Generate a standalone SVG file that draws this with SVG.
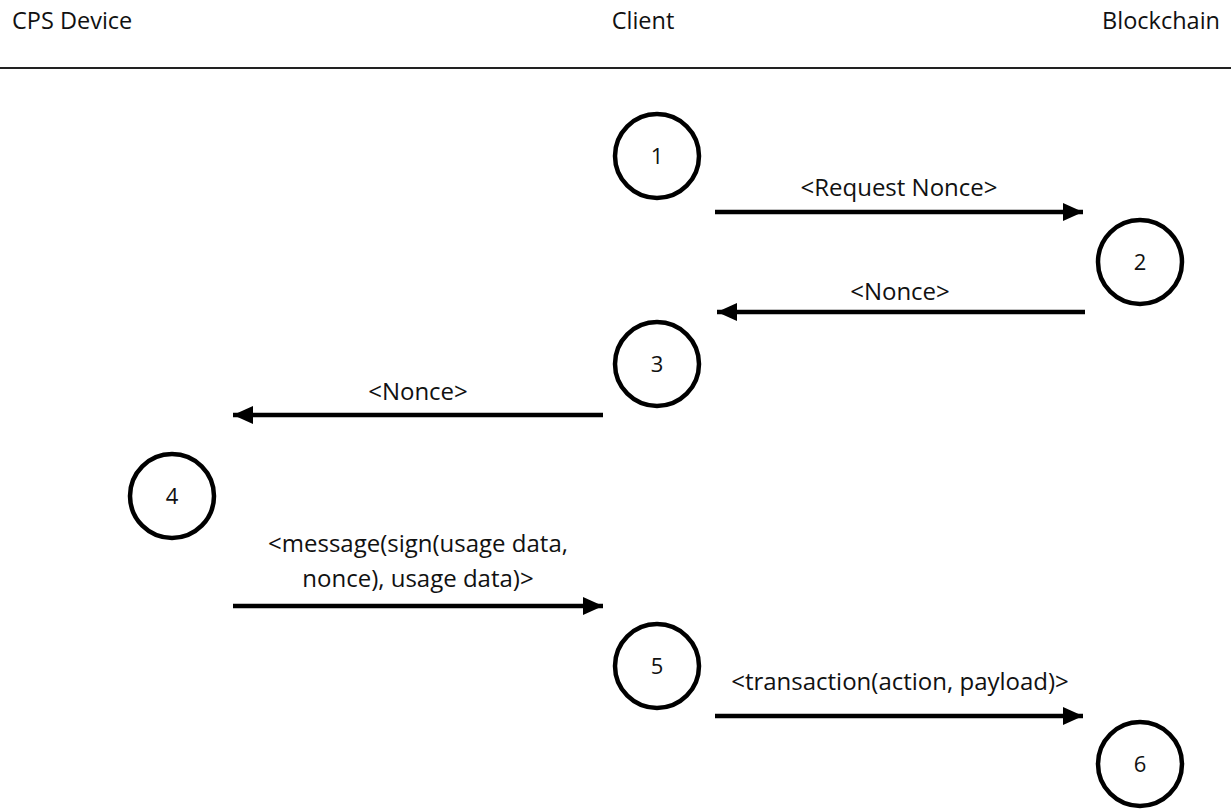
<svg xmlns="http://www.w3.org/2000/svg" width="1231" height="810" viewBox="0 0 1231 810">
<style>
text{font-family:"Open Sans","Noto Sans","DejaVu Sans",sans-serif;fill:#111}
.hd{font-size:23.5px}
.lb{font-size:24px;text-anchor:middle}
.num{font-size:22px;text-anchor:middle}
.node circle{fill:#fff;stroke:#000;stroke-width:4.5}
.conn line{stroke:#000;stroke-width:4.5}
</style>
<defs>
<marker id="ah" markerWidth="5" markerHeight="4" refX="4.5" refY="2" orient="auto" markerUnits="strokeWidth">
<path d="M0,0 L4.5,2 L0,4 Z" fill="#000"/>
</marker>
</defs>
<rect width="1231" height="810" fill="#fff"/>
<g id="header">
<text class="hd" x="12" y="29">CPS Device</text>
<text class="hd" x="643" y="29" text-anchor="middle">Client</text>
<text class="hd" x="1220" y="29" text-anchor="end">Blockchain</text>
<line x1="0" y1="68" x2="1231" y2="68" stroke="#222" stroke-width="2"/>
</g>
<g id="n1" class="node"><circle cx="657" cy="156" r="42"/><text class="num" x="657" y="164">1</text></g>
<g id="n2" class="node"><circle cx="1140" cy="262" r="42"/><text class="num" x="1140" y="270">2</text></g>
<g id="n3" class="node"><circle cx="657" cy="364" r="42"/><text class="num" x="657" y="372">3</text></g>
<g id="n4" class="node"><circle cx="172" cy="496" r="42"/><text class="num" x="172" y="504">4</text></g>
<g id="n5" class="node"><circle cx="657" cy="666" r="42"/><text class="num" x="657" y="674">5</text></g>
<g id="n6" class="node"><circle cx="1140" cy="764" r="42"/><text class="num" x="1140" y="772">6</text></g>
<g id="connectors" class="conn">
<line x1="715" y1="212" x2="1083" y2="212" marker-end="url(#ah)"/>
<line x1="1085" y1="312" x2="717" y2="312" marker-end="url(#ah)"/>
<line x1="603" y1="415" x2="233" y2="415" marker-end="url(#ah)"/>
<line x1="233" y1="606" x2="603" y2="606" marker-end="url(#ah)"/>
<line x1="715" y1="716" x2="1083" y2="716" marker-end="url(#ah)"/>
<text class="lb" x="899" y="196">&lt;Request Nonce&gt;</text>
<text class="lb" x="900" y="300">&lt;Nonce&gt;</text>
<text class="lb" x="418" y="400">&lt;Nonce&gt;</text>
<text class="lb" x="418" y="552">&lt;message(sign(usage data,</text>
<text class="lb" x="418" y="587">nonce), usage data)&gt;</text>
<text class="lb" x="900" y="690">&lt;transaction(action, payload)&gt;</text>
</g>
</svg>
